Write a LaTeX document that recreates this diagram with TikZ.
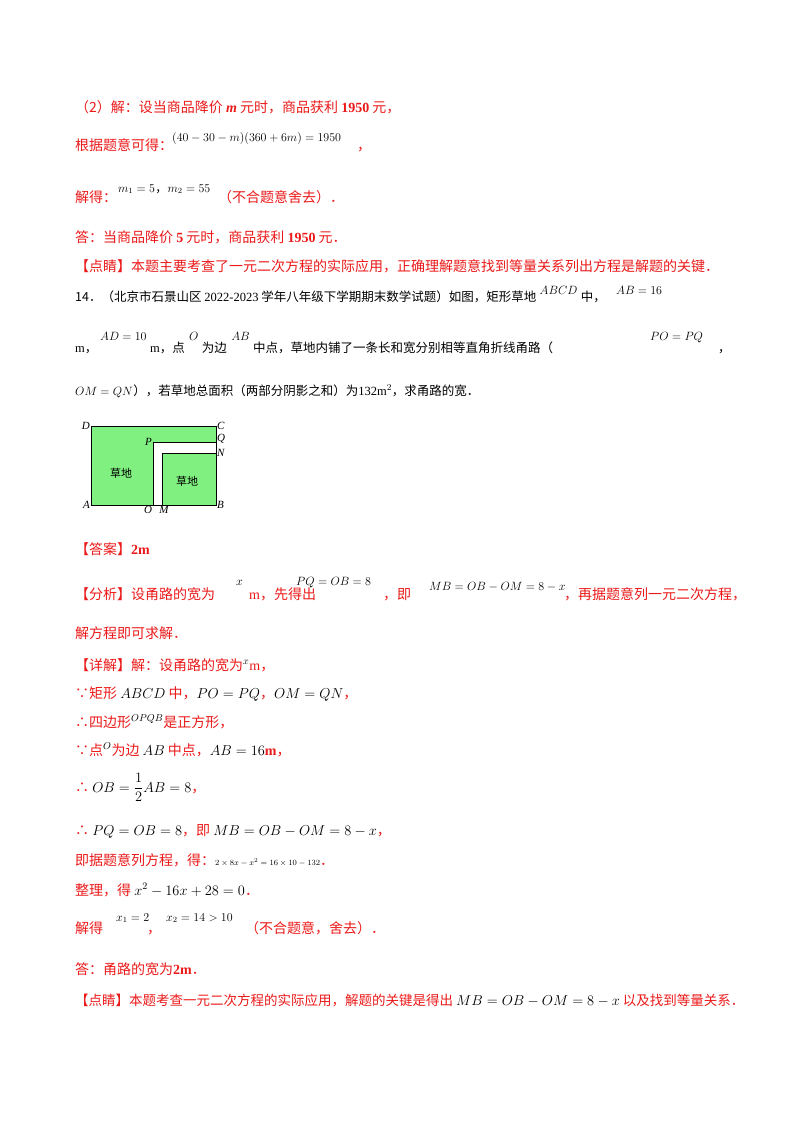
\documentclass[tikz,border=0pt]{standalone}
\usepackage{fontspec}
\setmainfont{Liberation Serif}
\newfontfamily\zh{Noto Sans CJK SC}
\definecolor{rd}{RGB}{235,25,25}
\definecolor{grass}{RGB}{128,240,128}
\begin{document}
\begin{tikzpicture}[x=1pt,y=-1pt,
  t/.style={anchor=base west,inner sep=0pt,font=\fontsize{14}{16}\selectfont\zh},
  tb/.style={anchor=base west,inner sep=0pt,font=\fontsize{12.5}{15}\selectfont\zh},
  r/.style={t,text=rd},
  m/.style={anchor=base west,inner sep=0pt,font=\fontsize{12}{14}\selectfont},
  lab/.style={inner sep=1pt,font=\fontsize{11}{12}\selectfont\itshape}]
\useasboundingbox (0,0) rectangle (800,1132);
\node[r] (l1) at (75,112) {（2）解：设当商品降价 {\rmfamily\bfseries\itshape m} 元时，商品获利 {\rmfamily\bfseries 1950} 元，};
\node[r] (l2) at (75,150) {根据题意可得：};
\node[m] (e2) at (172,141) {$(40-30-m)(360+6m)=1950$};
\node[r] (e2c) at (357,150) {，};
\node[r] (l3) at (75,202) {解得：};
\node[m] (e3) at (118,192) {$m_1=5$};
\node[m,font=\fontsize{12}{14}\selectfont\zh] (e3x) at (e3.base east) {，};
\node[m] (e3y) at (e3x.base east) {$m_2=55$};
\node[r] (e3b) at (218,202) {（不合题意舍去）．};
\node[r] (l4) at (75,242) {答：当商品降价 {\rmfamily\bfseries 5} 元时，商品获利 {\rmfamily\bfseries 1950} 元．};
\node[r] (l5) at (75,271) {【点睛】本题主要考查了一元二次方程的实际应用，正确理解题意找到等量关系列出方程是解题的关键．};
\node[tb] (l6) at (75,301) {14．（北京市石景山区 {\rmfamily 2022-2023} 学年八年级下学期期末数学试题）如图，矩形草地};
\node[m] (l6a) at ([shift={(3,-7)}]l6.base east) {$ABCD$};
\node[tb] (l6b) at ([shift={(3,7)}]l6a.base east) {中，};
\node[m] (l6c) at ([shift={(10,-7)}]l6b.base east) {$AB=16$};
\node[tb] (l7) at (75,352) {{\rmfamily m}，};
\node[m] (l7a) at (100,340) {$AD=10$};
\node[tb] (l7b) at ([shift={(3,12)}]l7a.base east) {{\rmfamily m}，点};
\node[m] (l7c) at ([shift={(4,-12)}]l7b.base east) {$O$};
\node[tb] (l7d) at ([shift={(3,12)}]l7c.base east) {为边};
\node[m] (l7e) at ([shift={(4,-12)}]l7d.base east) {$AB$};
\node[tb] (l7f) at ([shift={(3,12)}]l7e.base east) {中点，草地内铺了一条长和宽分别相等直角折线甬路（};
\node[m] (l7g) at (650,340) {$PO=PQ$};
\node[tb] (l7h) at (718,352) {，};
\node[m] (l8a) at (75,395) {$OM=QN$};
\node[tb] (l8) at (l8a.base east) {），若草地总面积（两部分阴影之和）为{\rmfamily 132m$^2$}，求甬路的宽．};
% figure
\coordinate (A) at (91,505); \coordinate (B) at (216,505);
\coordinate (C) at (216,426); \coordinate (D) at (91,426);
\coordinate (P) at (153,442); \coordinate (Q) at (216,442);
\coordinate (N) at (216,453); \coordinate (O) at (153,505);
\coordinate (M) at (162,505); \coordinate (I) at (162,453);
\fill[grass] (A) -- (O) -- (P) -- (Q) -- (C) -- (D) -- cycle;
\fill[grass] (M) -- (I) -- (N) -- (B) -- cycle;
\draw[thick] (A) -- (B) -- (C) -- (D) -- cycle;
\draw[thick] (O) -- (P) -- (Q);
\draw[thick] (M) -- (I) -- (N);
\node[lab,anchor=east] at (D) {D};
\node[lab,anchor=west] at (C) {C};
\node[lab,anchor=east] at (P) {P};
\node[lab,anchor=west] at (216,439) {Q};
\node[lab,anchor=west] at (N) {N};
\node[lab,anchor=east] at (A) {A};
\node[lab,anchor=west] at (B) {B};
\node[lab,anchor=north] at (148,505) {O};
\node[lab,anchor=north] at (164,505) {M};
\node[t,font=\fontsize{11}{12}\selectfont\zh] at (110,477) {草地};
\node[t,font=\fontsize{11}{12}\selectfont\zh] at (176,485) {草地};
\node[r] (a1) at (75,554) {【答案】{\rmfamily\bfseries 2m}};
\node[r] (a2) at (75,599) {【分析】设甬路的宽为};
\node[m] (a2a) at (236,585) {$x$};
\node[r] (a2b) at (249,599) {{\rmfamily m}，先得出};
\node[m] (a2c) at (296,585) {$PQ=OB=8$};
\node[r] (a2d) at (383,599) {，即};
\node[m] (a2e) at (429,590) {$MB=OB-OM=8-x$};
\node[r] (a2f) at (564,599) {，再据题意列一元二次方程，};
\node[r] (a3) at (75,638) {解方程即可求解．};
\node[r] (d1) at (75,670) {【详解】解：设甬路的宽为{\color{black}$^{x}$}{\rmfamily m}，};
\node[r] (d2) at (75,698) {∵矩形 {\color{black}$ABCD$} 中，{\color{black}$PO=PQ$}，{\color{black}$OM=QN$}，};
\node[r] (d3) at (75,727) {∴四边形{\color{black}$^{OPQB}$}是正方形，};
\node[r] (d4) at (75,755) {∵点{\color{black}$^{O}$}为边 {\color{black}$AB$} 中点，{\color{black}$AB=16$}{\rmfamily\bfseries m}，};
\node[r] (d5) at (75,792) {∴ {\color{black}$\displaystyle OB=\frac12AB=8$}，};
\node[r] (d6) at (75,835) {∴ {\color{black}$PQ=OB=8$}，即 {\color{black}$MB=OB-OM=8-x$}，};
\node[r] (d7) at (75,865) {即据题意列方程，得：{\color{black}\footnotesize$2\times8x-x^2=16\times10-132$}．};
\node[r] (d8) at (75,895) {整理，得 {\color{black}$x^2-16x+28=0$}．};
\node[r] (d9) at (75,933) {解得};
\node[m] (d9a) at (116,921) {$x_1=2$};
\node[r] (d9b) at (147,933) {，};
\node[m] (d9c) at (166,921) {$x_2=14>10$};
\node[r] (d9d) at (245,933) {（不合题意，舍去）．};
\node[r] (d10) at (75,974) {答：甬路的宽为{\rmfamily\bfseries 2m}．};
\node[r,font=\fontsize{13.5}{16}\selectfont\zh] (d11) at (75,1005) {【点睛】本题考查一元二次方程的实际应用，解题的关键是得出 {\color{black}$MB=OB-OM=8-x$} 以及找到等量关系．};
\end{tikzpicture}
\end{document}
